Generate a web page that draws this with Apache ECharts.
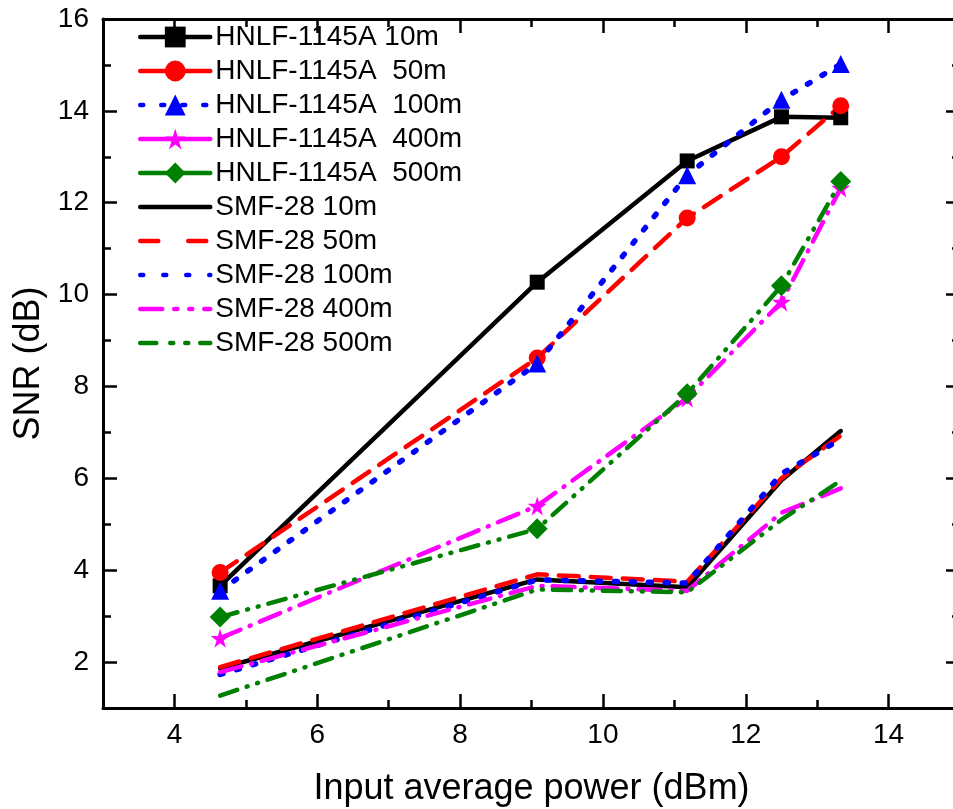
<!DOCTYPE html>
<html>
<head>
<meta charset="utf-8">
<script src="https://cdn.jsdelivr.net/npm/echarts@6/dist/echarts.min.js"></script>
<style>
html,body{margin:0;padding:0;background:#fff;}
#c{width:953px;height:809px;}
</style>
</head>
<body>
<div id="c"></div>
<script>
// ---- data ----
var xVals = [4.64, 9.08, 11.18, 12.5, 13.33];
var hnlf10 = [3.66, 10.27, 12.91, 13.87, 13.85];
var hnlf50 = [3.95, 8.62, 11.67, 13.0, 14.11];
var hnlf100 = [3.55, 8.5, 12.6, 14.24, 15.02];
var hnlf400 = [2.52, 5.4, 7.75, 9.84, 12.32];
var hnlf500 = [2.98, 4.9, 7.84, 10.19, 12.46];
var smf10 = [1.86, 3.8, 3.63, 5.96, 7.03];
var smf50 = [1.89, 3.91, 3.75, 6.0, 6.93];
var smf100 = [1.73, 3.79, 3.72, 6.1, 6.85];
var smf400 = [1.78, 3.66, 3.55, 5.25, 5.78];
var smf500 = [1.27, 3.58, 3.52, 5.1, 5.95];
var names = ['HNLF-1145A 10m', 'HNLF-1145A  50m', 'HNLF-1145A  100m', 'HNLF-1145A  400m', 'HNLF-1145A  500m',
             'SMF-28 10m', 'SMF-28 50m', 'SMF-28 100m', 'SMF-28 400m', 'SMF-28 500m'];
var xMajor = [4, 6, 8, 10, 12, 14];
var xMinor = [5, 7, 9, 11, 13];
var yMajor = [2, 4, 6, 8, 10, 12, 14, 16];
var yMinor = [3, 5, 7, 9, 11, 13, 15];

function pairs(ys) { return xVals.map(function (x, i) { return [x, ys[i]]; }); }

var starPath = 'path://M50,0 L61,35 L98,35 L68,57 L79,91 L50,70 L21,91 L32,57 L2,35 L39,35 Z';
var FONT = 'Liberation Sans';

function mkSeries(name, data, color, lineType, width, symbol, size) {
  return {
    name: name, type: 'line', data: pairs(data),
    xAxisIndex: 0, yAxisIndex: 0,
    symbol: symbol || 'none', symbolSize: size || 0,
    showSymbol: !!symbol,
    itemStyle: { color: color, opacity: 1 },
    lineStyle: { color: color, width: width, type: lineType, cap: 'round' },
    emphasis: { disabled: true },
    animation: false
  };
}

var dashA = [20, 12];
var dotA = [3, 14];
var dashDot = [22, 10, 1, 10];
var dashDotDot = [18, 10, 1, 10, 1, 10];

var colors = ['#000000', '#ff0000', '#0000ff', '#ff00ff', '#008000', '#000000', '#ff0000', '#0000ff', '#ff00ff', '#008000'];
var types = ['solid', dashA, dotA, dashDot, dashDotDot, 'solid', dashA, dotA, dashDot, dashDotDot];

var series = [
  mkSeries(names[0], hnlf10, colors[0], types[0], 4.5, 'rect', 15),
  mkSeries(names[1], hnlf50, colors[1], types[1], 4.5, 'circle', 17),
  mkSeries(names[2], hnlf100, colors[2], types[2], 5.5, 'triangle', 18),
  mkSeries(names[3], hnlf400, colors[3], types[3], 4.5, starPath, 19),
  mkSeries(names[4], hnlf500, colors[4], types[4], 4.5, 'diamond', 21),
  mkSeries(names[5], smf10, colors[5], types[5], 4.5),
  mkSeries(names[6], smf50, colors[6], types[6], 4.5),
  mkSeries(names[7], smf100, colors[7], types[7], 5.5),
  mkSeries(names[8], smf400, colors[8], types[8], 4.5),
  mkSeries(names[9], smf500, colors[9], types[9], 4.5)
];

var legendTypes = ['solid', 'solid', [3, 18], 'solid', 'solid', 'solid', [18, 30], [3, 20], [22, 12, 3, 12, 3, 12], [16, 14, 3, 12, 3, 12]];
var legendData = names.map(function (n, i) {
  var item = { name: n, lineStyle: { color: colors[i], width: 4.5, type: legendTypes[i], cap: 'round' } };
  if (i >= 5) item.itemStyle = { opacity: 0 };
  return item;
});

function xAx(pos, ticks, len, labels, showLine) {
  return {
    type: 'value', position: pos, min: 3, max: 15, interval: 1,
    axisLine: { show: showLine, onZero: false, lineStyle: { color: '#000', width: 3 } },
    axisTick: { show: true, inside: true, length: len, customValues: ticks, lineStyle: { color: '#000', width: 2.5 } },
    axisLabel: labels ? { show: true, customValues: xMajor, margin: 13, color: '#000', fontSize: 28, fontFamily: FONT } : { show: false },
    splitLine: { show: false },
    name: labels ? 'Input average power (dBm)' : '',
    nameLocation: 'middle', nameGap: 63,
    nameTextStyle: { color: '#000', fontSize: 36, fontFamily: FONT }
  };
}
function yAx(pos, ticks, len, labels, showLine) {
  return {
    type: 'value', position: pos, min: 1, max: 16, interval: 1,
    axisLine: { show: showLine, onZero: false, lineStyle: { color: '#000', width: 3 } },
    axisTick: { show: true, inside: true, length: len, customValues: ticks, lineStyle: { color: '#000', width: 2.5 } },
    axisLabel: labels ? { show: true, customValues: yMajor, margin: 14, color: '#000', fontSize: 28, fontFamily: FONT } : { show: false },
    splitLine: { show: false },
    name: labels ? 'SNR (dB)' : '',
    nameLocation: 'middle', nameGap: 54, nameRotate: 90,
    nameTextStyle: { color: '#000', fontSize: 36, fontFamily: FONT }
  };
}

var option = {
  backgroundColor: '#ffffff',
  animation: false,
  grid: { left: 103, top: 19, right: -7, bottom: 101, containLabel: false, outerBoundsMode: 'none' },
  xAxis: [
    xAx('bottom', xMajor, 14, true, true),
    xAx('bottom', xMinor, 8, false, false),
    xAx('top', xMajor, 14, false, true),
    xAx('top', xMinor, 8, false, false)
  ],
  yAxis: [
    yAx('left', yMajor, 14, true, true),
    yAx('left', yMinor, 8, false, false),
    yAx('right', yMajor, 14, false, true),
    yAx('right', yMinor, 8, false, false)
  ],
  legend: {
    show: true, orient: 'vertical', left: 133, top: 18,
    itemWidth: 70, itemHeight: 26, itemGap: 6,
    data: legendData,
    textStyle: { color: '#000', fontSize: 28, fontFamily: FONT },
    selectedMode: false
  },
  series: series
};

var chart = echarts.init(document.getElementById('c'), null, { renderer: 'canvas' });
chart.setOption(option);
</script>
</body>
</html>
